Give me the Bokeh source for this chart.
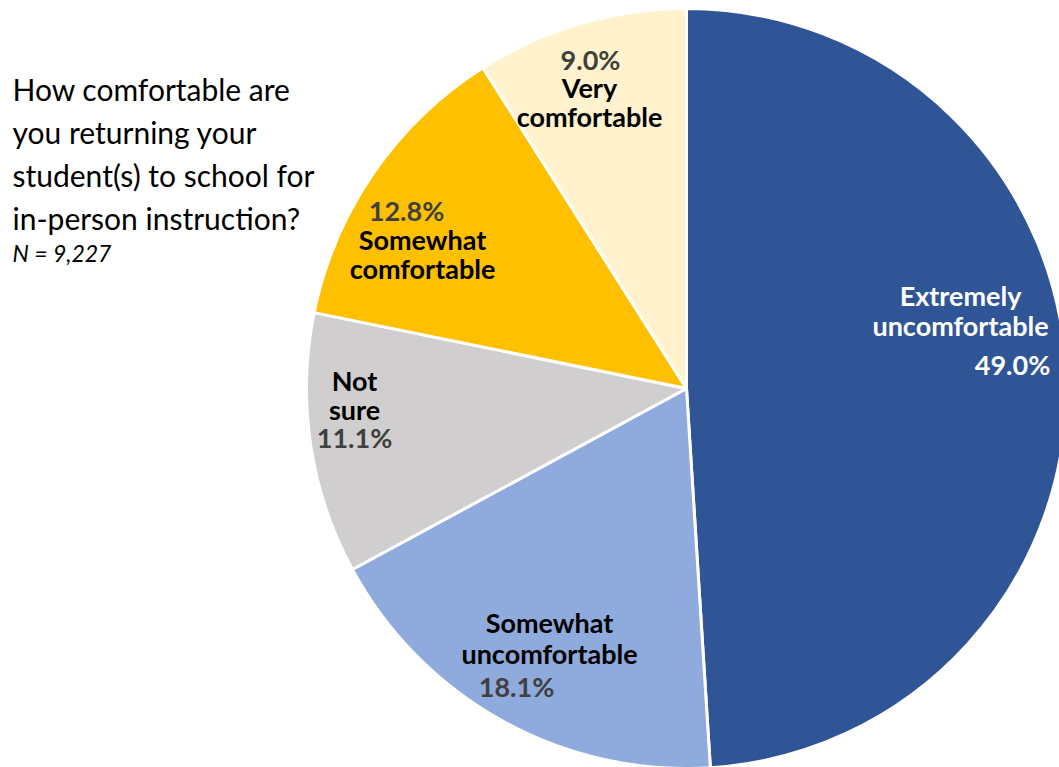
import numpy as np
from bokeh.plotting import figure
from bokeh.models import Range1d, ColumnDataSource
from bokeh.core.properties import value
from bokeh.embed import file_html
from bokeh.resources import INLINE

# ---- data ----
categories = ["Extremely uncomfortable", "Somewhat uncomfortable", "Not sure",
              "Somewhat comfortable", "Very comfortable"]
percents = [49.0, 18.1, 11.1, 12.8, 9.0]
colors = ["#2F5597", "#8FAADC", "#D0CECE", "#FFC000", "#FFF2CC"]

title_lines = ["How comfortable are", "you returning your",
               "student(s) to school for", "in-person instruction?"]
n_text = "N = 9,227"

# ---- layout (pixel coords, y measured from top) ----
W, H = 1059, 767
cx, cy, R = 686, 388, 380

# label lines: (text, x, y, kind) kind: name / pct
label_layout = [
    [("Extremely", 960, 295, "name"), ("uncomfortable", 960, 325, "name"), ("49.0%", 1012, 364, "pct")],
    [("Somewhat", 549, 622, "name"), ("uncomfortable", 549, 653, "name"), ("18.1%", 516, 686, "pct")],
    [("Not", 354, 380, "name"), ("sure", 354, 409, "name"), ("11.1%", 354, 437, "pct")],
    [("12.8%", 406, 210, "pct"), ("Somewhat", 422, 239, "name"), ("comfortable", 422, 268, "name")],
    [("9.0%", 590, 59, "pct"), ("Very", 589, 87, "name"), ("comfortable", 589, 116, "name")],
]
name_colors = ["white", "black", "black", "black", "black"]
pct_colors = ["white", "#404040", "#404040", "#404040", "#404040"]

p = figure(width=W, height=H, x_range=Range1d(0, W), y_range=Range1d(0, H),
           output_backend="svg", toolbar_location=None, min_border=0,
           outline_line_color=None)
p.axis.visible = False
p.grid.visible = False
p.background_fill_color = "white"

fr = np.array(percents) / sum(percents)
cum = np.concatenate([[0], np.cumsum(fr)])
start = np.pi / 2 - cum[:-1] * 2 * np.pi
end = np.pi / 2 - cum[1:] * 2 * np.pi
src = ColumnDataSource(dict(start=start, end=end, color=colors, cat=categories))
p.wedge(x=cx, y=H - cy, radius=R, start_angle="start", end_angle="end",
        direction="clock", fill_color="color", line_color="white", line_width=3,
        source=src)

for i, lines in enumerate(label_layout):
    for (t, x, y, kind) in lines:
        p.text(x=[x], y=[H - y], text=[t], text_align="center", text_baseline="middle",
               text_font=value("Lato"), text_font_style="bold", text_font_size="27px",
               text_color=name_colors[i] if kind == "name" else pct_colors[i])

for j, t in enumerate(title_lines):
    p.text(x=[12], y=[H - (88 + 43 * j)], text=[t], text_align="left", text_baseline="middle",
           text_font=value("Lato"), text_font_size="30px", text_color="black")
p.text(x=[12], y=[H - 252], text=[n_text], text_align="left", text_baseline="middle",
       text_font=value("Lato"), text_font_style="italic", text_font_size="23px", text_color="black")

open("out.html", "w").write(file_html(p, INLINE))
